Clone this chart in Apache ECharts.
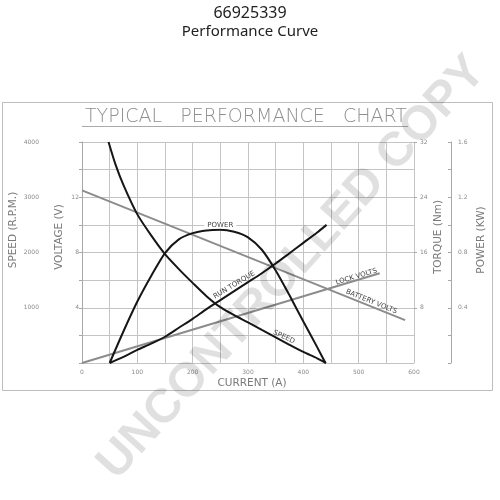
<!DOCTYPE html>
<html><head><meta charset="utf-8">
<script src="https://cdn.jsdelivr.net/npm/echarts@6/dist/echarts.min.js"></script>
<style>html,body{margin:0;padding:0;background:#fff}#c{width:500px;height:500px}</style>
</head><body><div id="c"></div>
<script>
// ---- data ----
const speedCurrent = [48, 60, 75, 100, 125, 150, 175, 200, 225, 250, 275, 300, 325, 350, 375, 400, 425, 441];
const speedRpm     = [4000, 3610, 3220, 2690, 2310, 1970, 1700, 1450, 1210, 1010, 865, 735, 600, 465, 330, 200, 85, 0];
const powerCurrent = [50, 75, 100, 125, 150, 175, 200, 225, 250, 275, 300, 325, 350, 375, 400, 425, 440];
const powerKw      = [0, 0.23, 0.445, 0.63, 0.796, 0.895, 0.94, 0.96, 0.965, 0.95, 0.91, 0.82, 0.67, 0.49, 0.30, 0.115, 0];
const torqueCurrent = [50, 75, 100, 125, 150, 175, 200, 225, 250, 275, 300, 325, 350, 375, 400, 425, 442];
const torqueNm      = [0, 0.9, 1.9, 2.8, 3.8, 5.1, 6.4, 7.8, 9.1, 10.4, 11.7, 13.0, 14.4, 15.9, 17.4, 18.9, 20.0];
const batteryCurrent = [0, 584];
const batteryVolts   = [12.5, 3.1];
const lockCurrent = [0, 538];
const lockVolts   = [0, 6.5];

const currentLabels = [0, 100, 200, 300, 400, 500, 600];
const speedLabels   = [1000, 2000, 3000, 4000];
const voltLabels    = [4, 8, 12];
const torqueLabels  = [8, 16, 24, 32];
const powerLabels   = [0.4, 0.8, 1.2, 1.6];

const zip = (xs, ys) => xs.map((x, i) => [x, ys[i]]);
const has = (arr, v) => arr.some(a => Math.abs(a - v) < 1e-6);

const chart = echarts.init(document.getElementById('c'));
const grid = '#c4c4c4', axisCol = '#a8a8a8', lblCol = '#8a8a8a';
const lblFont = { fontSize: 6, color: lblCol, fontFamily: 'DejaVu Sans' };

chart.setOption({
  animation: false,
  backgroundColor: '#fff',
  grid: { left: 82, right: 86, top: 142, bottom: 137 },
  xAxis: {
    type: 'value', min: 0, max: 600, interval: 50,
    axisLine: { show: true, lineStyle: { color: grid } },
    axisTick: { show: false },
    splitLine: { show: true, lineStyle: { color: grid, width: 1 } },
    axisLabel: Object.assign({ margin: 6, formatter: v => has(currentLabels, v) ? String(v) : '' }, lblFont)
  },
  yAxis: [
    { // speed
      type: 'value', position: 'left', offset: 39, min: 0, max: 4000, interval: 500,
      axisLine: { show: true, lineStyle: { color: axisCol } },
      axisTick: { show: true, length: 3, lineStyle: { color: axisCol } },
      splitLine: { show: true, lineStyle: { color: grid, width: 1 } },
      axisLabel: Object.assign({ margin: 4, formatter: v => has(speedLabels, v) ? String(v) : '' }, lblFont)
    },
    { // voltage
      type: 'value', position: 'left', offset: 0, min: 0, max: 16, interval: 2,
      axisLine: { show: false }, axisTick: { show: false }, splitLine: { show: false },
      axisLabel: Object.assign({ margin: 3, formatter: v => has(voltLabels, v) ? String(v) : '' }, lblFont)
    },
    { // torque
      type: 'value', position: 'right', offset: 0, min: 0, max: 32, interval: 4,
      axisLine: { show: false },
      axisTick: { show: true, length: 3, customValues: torqueLabels, lineStyle: { color: axisCol } },
      splitLine: { show: false },
      axisLabel: Object.assign({ margin: 6, formatter: v => has(torqueLabels, v) ? String(v) : '' }, lblFont)
    },
    { // power
      type: 'value', position: 'right', offset: 37, min: 0, max: 1.6, interval: 0.2,
      axisLine: { show: true, lineStyle: { color: axisCol } },
      axisTick: { show: true, inside: true, length: 3, lineStyle: { color: axisCol } },
      splitLine: { show: false },
      axisLabel: Object.assign({ margin: 7, formatter: v => has(powerLabels, v) ? v.toFixed(1) : '' }, lblFont)
    }
  ],
  series: [
    { name: 'Battery Volts', type: 'line', yAxisIndex: 1, data: zip(batteryCurrent, batteryVolts),
      showSymbol: false, lineStyle: { color: '#8c8c8c', width: 2 }, z: 3 },
    { name: 'Lock Volts', type: 'line', yAxisIndex: 1, data: zip(lockCurrent, lockVolts),
      showSymbol: false, lineStyle: { color: '#8c8c8c', width: 2 }, z: 3 },
    { name: 'Speed', type: 'line', yAxisIndex: 0, data: zip(speedCurrent, speedRpm),
      showSymbol: false, smooth: 0.25, lineStyle: { color: '#161616', width: 2 }, z: 4 },
    { name: 'Power', type: 'line', yAxisIndex: 3, data: zip(powerCurrent, powerKw),
      showSymbol: false, smooth: 0.25, lineStyle: { color: '#161616', width: 2 }, z: 4 },
    { name: 'Run Torque', type: 'line', yAxisIndex: 2, data: zip(torqueCurrent, torqueNm),
      showSymbol: false, smooth: 0.25, lineStyle: { color: '#161616', width: 2 }, z: 4 }
  ]
});

// ---- curve labels, anchored in data units ----
const curveLabels = [
  { text: 'POWER',         axis: 3, at: [250, 1.0],  rot: 0,   bg: true },
  { text: 'RUN TORQUE',    axis: 2, at: [275, 11.3], rot: 31 },
  { text: 'SPEED',         axis: 0, at: [365, 470],  rot: -25 },
  { text: 'LOCK VOLTS',    axis: 1, at: [496, 6.25], rot: 17 },
  { text: 'BATTERY VOLTS', axis: 1, at: [523, 4.44], rot: -22 }
];
const nameFont = { fontSize: 10.5, fontFamily: 'DejaVu Sans', fill: '#7a7a7a', textAlign: 'center', textVerticalAlign: 'middle' };
const graphics = [
  { id: 'frame', type: 'rect', shape: { x: 2.5, y: 102.5, width: 490, height: 288 }, style: { fill: 'none', stroke: '#bdbdbd', lineWidth: 1 }, z: 1 },
  { id: 't1', type: 'text', x: 250, y: 13, style: { text: '66925339', fontSize: 16, fontFamily: 'Noto Sans', fill: '#222', textAlign: 'center', textVerticalAlign: 'middle' } },
  { id: 't2', type: 'text', x: 250, y: 32, style: { text: 'Performance Curve', fontSize: 15, fontFamily: 'Noto Sans', fill: '#222', textAlign: 'center', textVerticalAlign: 'middle' } },
  { id: 'hdr', type: 'text', x: 85, y: 117, style: { text: 'TYPICAL   PERFORMANCE   CHART', fontSize: 19, fontFamily: 'DejaVu Sans', fontWeight: 200, fill: '#8f8f8f', textAlign: 'left', textVerticalAlign: 'middle' } },
  { id: 'hdrline', type: 'line', shape: { x1: 82, y1: 126.5, x2: 408, y2: 126.5 }, style: { stroke: '#aaa', lineWidth: 1 } },
  { id: 'nSpeed', type: 'text', x: 13, y: 230, rotation: Math.PI / 2, style: Object.assign({ text: 'SPEED (R.P.M.)' }, nameFont) },
  { id: 'nVolt', type: 'text', x: 59, y: 237, rotation: Math.PI / 2, style: Object.assign({ text: 'VOLTAGE (V)' }, nameFont) },
  { id: 'nTorq', type: 'text', x: 438, y: 237, rotation: Math.PI / 2, style: Object.assign({ text: 'TORQUE (Nm)' }, nameFont) },
  { id: 'nPow', type: 'text', x: 481, y: 240, rotation: Math.PI / 2, style: Object.assign({ text: 'POWER (KW)' }, nameFont) },
  { id: 'nCur', type: 'text', x: 252, y: 383, style: Object.assign({ text: 'CURRENT (A)' }, nameFont) }
];
curveLabels.forEach((l, i) => {
  const p = chart.convertToPixel({ xAxisIndex: 0, yAxisIndex: l.axis }, l.at);
  graphics.push({ id: 'cl' + i, type: 'text', x: p[0], y: p[1], rotation: l.rot * Math.PI / 180, z: 10,
    style: { text: l.text, fontSize: 7, fontFamily: 'DejaVu Sans', fill: '#444', textAlign: 'center', textVerticalAlign: 'middle',
      backgroundColor: l.bg ? '#fff' : null, padding: l.bg ? [0, 3] : 0 } });
});
graphics.push({ id: 'wm', type: 'text', x: 292, y: 268, rotation: 47.8 * Math.PI / 180, z: 100,
  style: { text: 'UNCONTROLLED COPY', fontSize: 48, fontWeight: 'bold', fontFamily: 'Liberation Sans', fill: 'rgba(0,0,0,0.12)', textAlign: 'center', textVerticalAlign: 'middle' } });
chart.setOption({ graphic: graphics });
</script>
</body></html>
